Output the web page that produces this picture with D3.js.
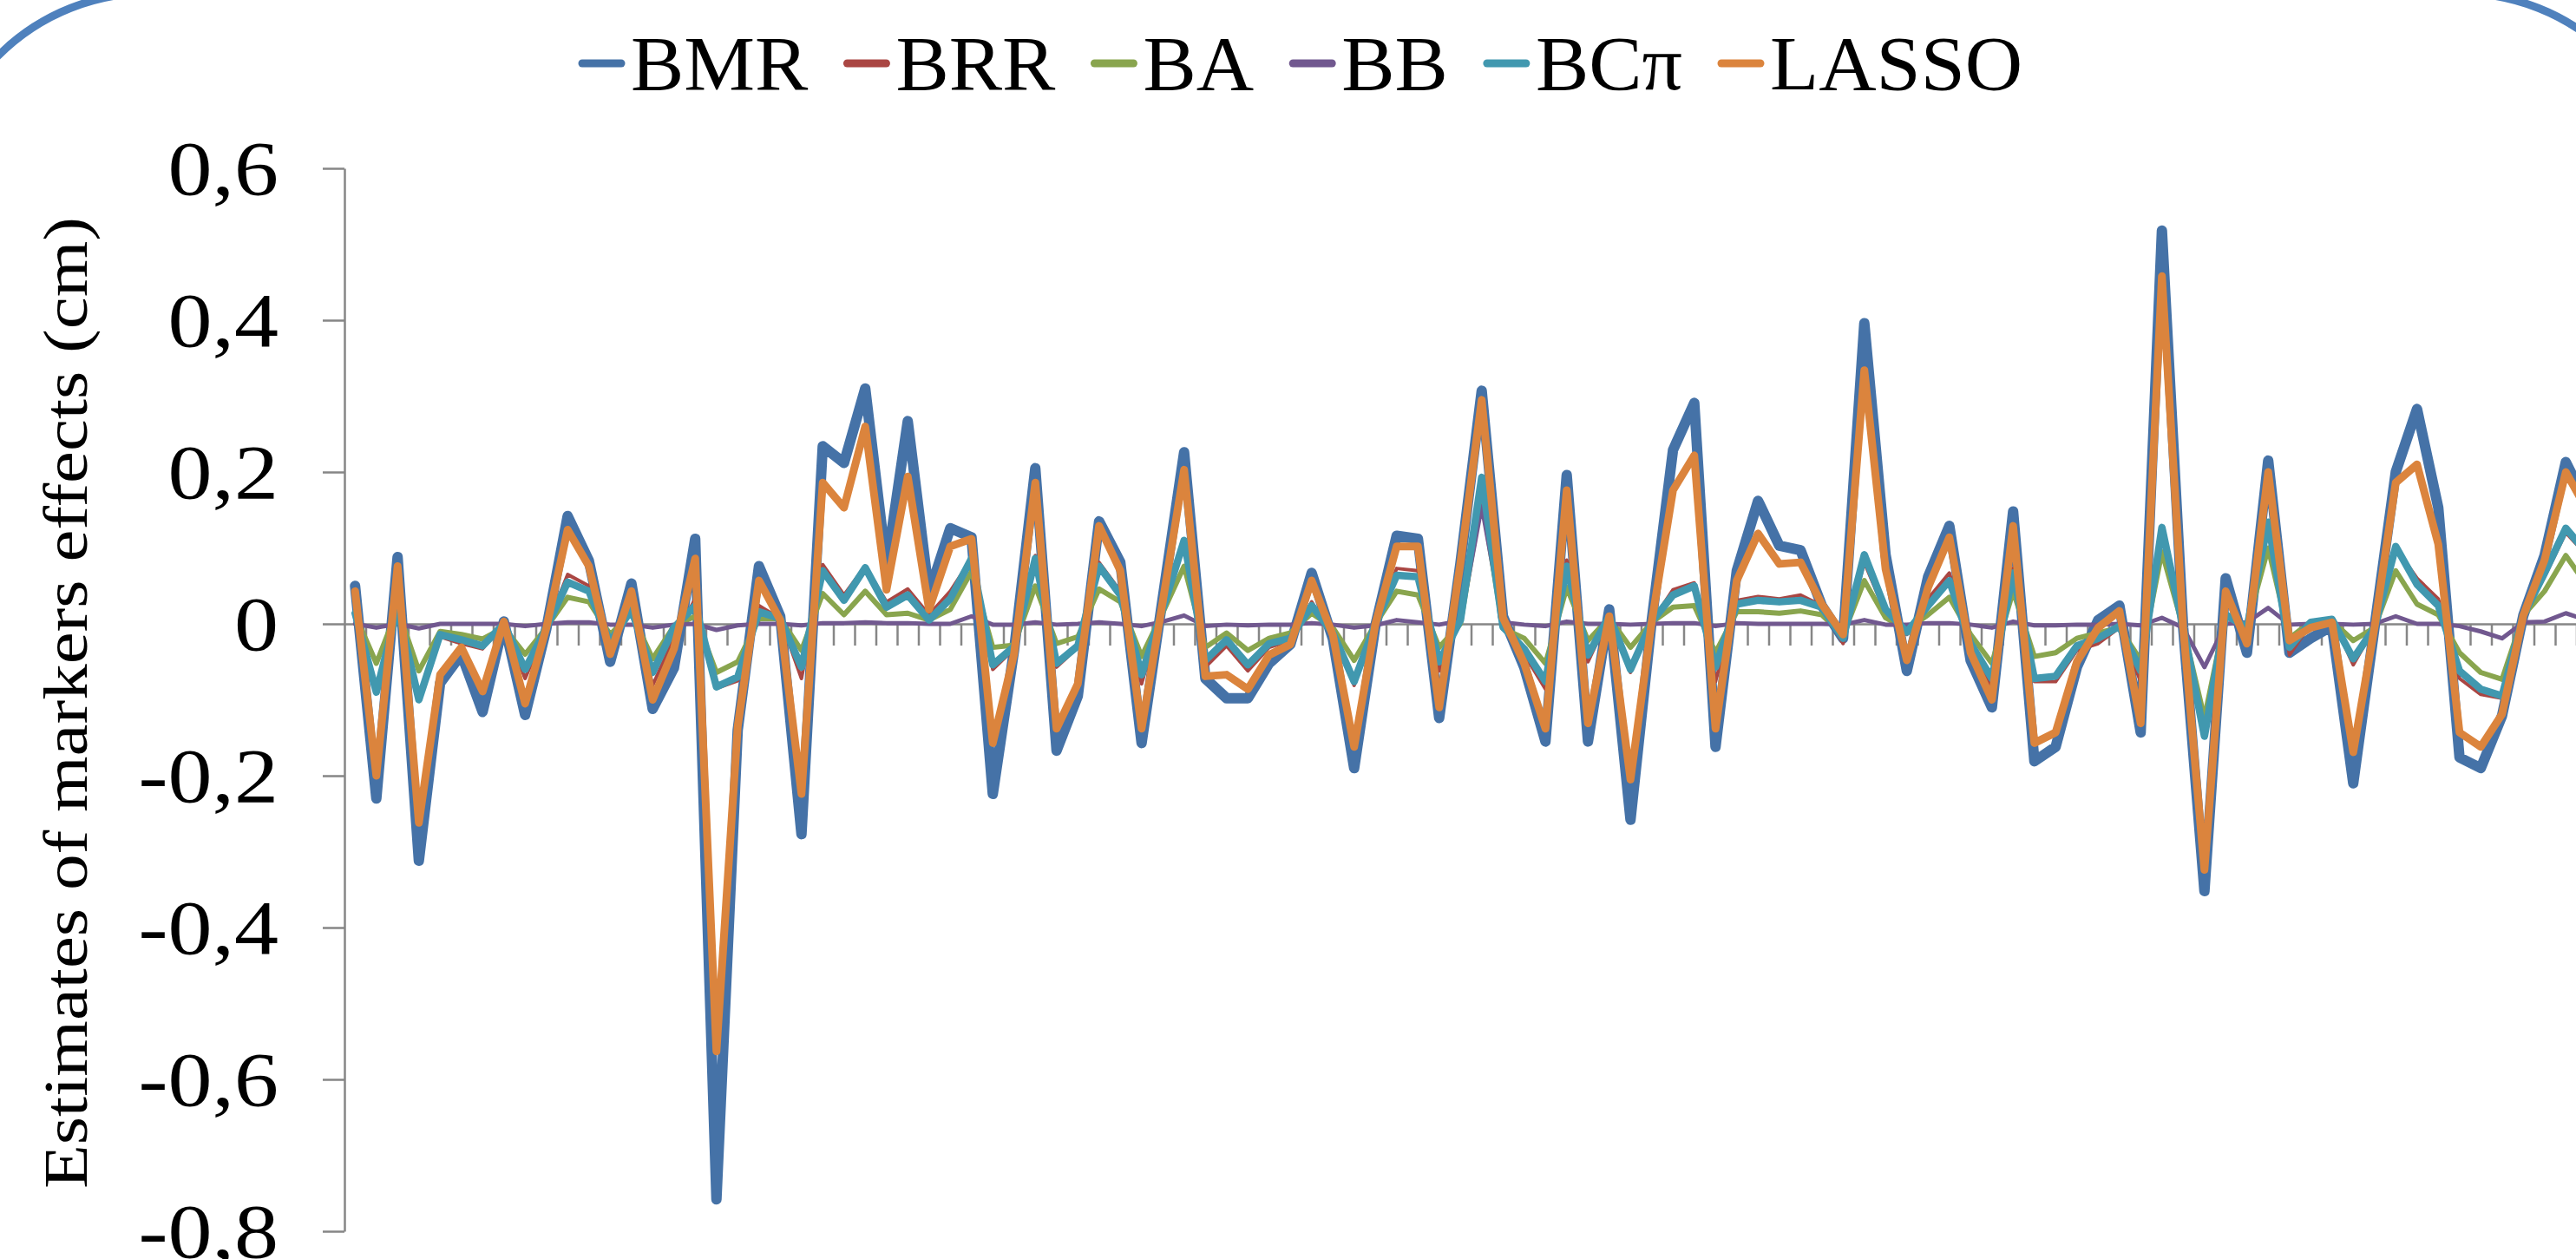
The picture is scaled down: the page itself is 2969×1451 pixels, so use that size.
<!DOCTYPE html>
<html>
<head>
<meta charset="utf-8">
<script src="https://cdnjs.cloudflare.com/ajax/libs/d3/7.8.5/d3.min.js"></script>
<style>
    html, body { margin: 0; padding: 0; background: #fff; overflow: hidden; }
    text { font-family: "Liberation Serif", "Times New Roman", serif; fill: #000; }
</style>
</head>
<body>
<div id="chart"></div>
<script>
var seriesNames = ["BMR", "BRR", "BA", "BB", "BC\u03c0", "LASSO"];
var seriesColors = ["#4572a7", "#aa4643", "#89a54e", "#71588f", "#4198af", "#db843d"];

var bmr = [0.05, -0.23, 0.088, -0.312, -0.078, -0.04, -0.116, 0.003, -0.12, -0.006,
    0.142, 0.083, -0.05, 0.053, -0.112, -0.058, 0.112, -0.758, -0.14, 0.076,
    0.01, -0.277, 0.234, 0.212, 0.31, 0.075, 0.267, 0.04, 0.126, 0.114,
    -0.224, -0.035, 0.205, -0.167, -0.095, 0.135, 0.081, -0.157, 0.035, 0.226,
    -0.072, -0.098, -0.098, -0.052, -0.027, 0.067, -0.02, -0.19, -0.002, 0.116,
    0.112, -0.124, 0.08, 0.307, 0.01, -0.057, -0.155, 0.196, -0.155, 0.019,
    -0.258, 0.005, 0.229, 0.291, -0.162, 0.07, 0.162, 0.103, 0.097, 0.024,
    -0.019, 0.396, 0.091, -0.062, 0.062, 0.129, -0.048, -0.11, 0.148, -0.181,
    -0.162, -0.057, 0.005, 0.024, -0.143, 0.518, -0.005, -0.352, 0.06, -0.038,
    0.215, -0.038, -0.019, -0.003, -0.21, -0.005, 0.2, 0.283, 0.153, -0.176,
    -0.19, -0.121, 0.011, 0.09, 0.213, 0.157];

var brr = [0.022, -0.085, 0.02, -0.1, -0.017, -0.026, -0.033, 0.002, -0.072, -0.005,
    0.065, 0.05, -0.026, 0.019, -0.081, -0.019, 0.033, -0.085, -0.075, 0.024,
    0.007, -0.072, 0.078, 0.038, 0.076, 0.029, 0.046, 0.012, 0.043, 0.086,
    -0.06, -0.033, 0.09, -0.057, -0.031, 0.081, 0.043, -0.079, 0.02, 0.105,
    -0.057, -0.029, -0.062, -0.031, -0.022, 0.029, -0.015, -0.081, 0, 0.073,
    0.07, -0.062, 0.005, 0.18, -0.004, -0.04, -0.086, 0.084, -0.05, 0.01,
    -0.064, 0.003, 0.045, 0.054, -0.076, 0.031, 0.036, 0.033, 0.038, 0.024,
    -0.026, 0.081, 0.014, -0.014, 0.033, 0.067, -0.026, -0.086, 0.073, -0.076,
    -0.076, -0.035, -0.026, -0.005, -0.076, 0.125, -0.005, -0.148, 0.012, -0.01,
    0.13, -0.041, 0, 0.008, -0.054, -0.005, 0.1, 0.06, 0.033, -0.072,
    -0.093, -0.098, 0.011, 0.062, 0.12, 0.09];

var ba = [0.012, -0.052, 0.02, -0.062, -0.01, -0.014, -0.02, -0.005, -0.04, -0.005,
    0.035, 0.029, -0.014, 0.014, -0.046, -0.003, 0.01, -0.064, -0.05, 0.007,
    0.007, -0.035, 0.04, 0.012, 0.043, 0.012, 0.014, 0.005, 0.019, 0.069,
    -0.031, -0.028, 0.05, -0.026, -0.017, 0.046, 0.029, -0.043, 0.015, 0.076,
    -0.031, -0.012, -0.035, -0.019, -0.012, 0.014, -0.005, -0.048, 0, 0.043,
    0.038, -0.031, 0, 0.168, -0.006, -0.019, -0.052, 0.048, -0.022, 0.008,
    -0.031, 0.002, 0.022, 0.024, -0.038, 0.016, 0.016, 0.014, 0.017, 0.012,
    -0.015, 0.057, 0.008, -0.008, 0.012, 0.035, -0.014, -0.052, 0.043, -0.043,
    -0.038, -0.019, -0.012, -0.005, -0.048, 0.095, -0.005, -0.124, 0.012, -0.003,
    0.1, -0.019, 0.003, 0.004, -0.022, -0.005, 0.07, 0.026, 0.012, -0.038,
    -0.064, -0.073, 0.011, 0.043, 0.09, 0.05];

var bb = [0, -0.005, 0, -0.006, 0, 0, 0, 0, -0.003, 0,
    0.002, 0.002, -0.001, -0.001, -0.005, -0.001, 0, -0.008, -0.002, 0,
    0, -0.002, 0.001, 0.001, 0.002, 0.001, 0.001, 0, 0, 0.01,
    -0.001, -0.001, 0.002, -0.001, 0, 0.002, 0, -0.003, 0.003, 0.011,
    -0.003, -0.001, -0.002, -0.001, -0.001, 0.001, -0.001, -0.005, -0.002, 0.005,
    0.002, -0.001, 0.004, 0.155, 0.002, -0.001, -0.003, 0.003, 0, 0,
    -0.001, 0, 0.001, 0.001, -0.003, 0.001, 0, 0, 0, 0,
    -0.001, 0.005, -0.001, -0.001, 0.001, 0.001, -0.001, -0.005, 0.003, -0.002,
    -0.002, -0.001, -0.001, 0, -0.002, 0.008, -0.005, -0.057, 0, 0.002,
    0.021, -0.001, 0, 0, -0.001, 0, 0.01, 0, 0, -0.003,
    -0.01, -0.019, 0.002, 0.003, 0.014, 0.005];

var bcpi = [0.014, -0.09, 0.02, -0.1, -0.014, -0.021, -0.029, 0, -0.06, -0.005,
    0.055, 0.043, -0.024, 0.019, -0.064, -0.005, 0.024, -0.083, -0.07, 0.016,
    0.007, -0.057, 0.07, 0.031, 0.074, 0.022, 0.038, 0.005, 0.033, 0.086,
    -0.054, -0.03, 0.086, -0.052, -0.029, 0.076, 0.038, -0.067, 0.02, 0.11,
    -0.048, -0.021, -0.054, -0.026, -0.019, 0.024, -0.012, -0.076, 0, 0.064,
    0.062, -0.05, 0.005, 0.193, -0.004, -0.033, -0.076, 0.076, -0.041, 0.01,
    -0.06, 0.003, 0.038, 0.05, -0.057, 0.026, 0.031, 0.029, 0.031, 0.022,
    -0.019, 0.091, 0.019, -0.011, 0.024, 0.057, -0.026, -0.072, 0.067, -0.072,
    -0.069, -0.029, -0.019, -0.003, -0.062, 0.127, -0.005, -0.148, 0.012, -0.005,
    0.134, -0.031, 0.002, 0.006, -0.046, -0.005, 0.102, 0.052, 0.024, -0.062,
    -0.086, -0.095, 0.011, 0.067, 0.126, 0.093];

var lasso = [0.043, -0.2, 0.076, -0.262, -0.067, -0.031, -0.089, 0.003, -0.105, -0.005,
    0.124, 0.076, -0.04, 0.043, -0.1, -0.033, 0.086, -0.563, -0.135, 0.057,
    0.005, -0.224, 0.186, 0.153, 0.26, 0.045, 0.194, 0.019, 0.102, 0.112,
    -0.157, -0.04, 0.186, -0.138, -0.079, 0.129, 0.07, -0.138, 0.03, 0.203,
    -0.069, -0.067, -0.086, -0.041, -0.027, 0.057, -0.015, -0.162, 0, 0.102,
    0.102, -0.11, 0.08, 0.295, 0.008, -0.052, -0.138, 0.176, -0.131, 0.01,
    -0.205, 0.003, 0.176, 0.222, -0.138, 0.057, 0.119, 0.079, 0.081, 0.026,
    -0.014, 0.334, 0.072, -0.048, 0.048, 0.114, -0.038, -0.1, 0.129, -0.157,
    -0.143, -0.05, -0.005, 0.017, -0.131, 0.458, -0.005, -0.324, 0.043, -0.026,
    0.2, -0.022, -0.005, 0.002, -0.169, -0.005, 0.186, 0.21, 0.105, -0.143,
    -0.162, -0.119, 0.011, 0.084, 0.2, 0.15];

var yTicks = [0.6, 0.4, 0.2, 0, -0.2, -0.4, -0.6, -0.8];
var yTickLabels = ["0,6", "0,4", "0,2", "0", "-0,2", "-0,4", "-0,6", "-0,8"];
var yTitle = "Estimates of markers effects (cm)";

(function() {
    var width = 2969,
        height = 1451;

    var svg = d3.select("#chart")
        .append("svg")
        .attr("width", width)
        .attr("height", height);

    // chart area border, most of it lies outside the picture
    svg.append("rect")
        .attr("x", -74)
        .attr("y", -8)
        .attr("width", 3155)
        .attr("height", 1700)
        .attr("rx", 246)
        .attr("ry", 246)
        .attr("fill", "none")
        .attr("stroke", "#4f81bd")
        .attr("stroke-width", 9);

    var left = 397, top = 194, bottom = 1419, step = 24.5;
    var series = [bmr, brr, ba, bb, bcpi, lasso];
    var widths = [12, 4, 6, 5, 8.5, 9];
    var categories = d3.range(1, bmr.length + 1);

    var x = d3.scaleBand()
        .domain(categories)
        .range([left, left + step * categories.length]);

    var xEdge = d3.scaleLinear()
        .domain([0, categories.length])
        .range(x.range());

    var y = d3.scaleLinear()
        .domain([-0.8, 0.6])
        .range([bottom, top]);

    var axisColor = "#868686";

    var yAxis = svg.append("g")
        .attr("transform", "translate(" + left + ",0)")
        .call(d3.axisLeft(y).tickValues(yTicks).tickSize(25).tickSizeOuter(0).tickFormat(""));

    var xAxis = svg.append("g")
        .attr("transform", "translate(0," + y(0) + ")")
        .call(d3.axisBottom(xEdge).tickValues(d3.range(1, categories.length + 1))
            .tickSize(25).tickSizeOuter(0).tickFormat(""));

    [yAxis, xAxis].forEach(function(g) {
        g.select(".domain").attr("stroke", axisColor).attr("stroke-width", 2.5);
        g.selectAll(".tick line").attr("stroke", axisColor).attr("stroke-width", 2.5);
    });

    svg.selectAll(".ylabel")
        .data(yTicks)
        .enter().append("text")
        .attr("class", "ylabel")
        .attr("transform", function(d) {
            return "translate(321," + y(d) + ") scale(1.16,1)";
        })
        .attr("text-anchor", "end")
        .attr("dy", "0.34em")
        .attr("font-size", 88)
        .text(function(d, i) { return yTickLabels[i]; });

    svg.append("text")
        .attr("transform", "translate(100,810) rotate(-90)")
        .attr("text-anchor", "middle")
        .attr("font-size", 72.5)
        .attr("textLength", 1120)
        .attr("lengthAdjust", "spacingAndGlyphs")
        .text(yTitle);

    var line = d3.line()
        .x(function(d, i) { return x(categories[i]) + x.bandwidth() / 2; })
        .y(function(d) { return y(d); });

    svg.selectAll(".series")
        .data(series)
        .enter().append("path")
        .attr("class", "series")
        .attr("fill", "none")
        .attr("stroke", function(d, i) { return seriesColors[i]; })
        .attr("stroke-width", function(d, i) { return widths[i]; })
        .attr("stroke-linejoin", "round")
        .attr("stroke-linecap", "round")
        .attr("d", line);

    // legend, text a little wider than plain Liberation Serif
    var legend = svg.append("g");
    var lx = 667, stretch = 1.045;
    seriesNames.forEach(function(name, i) {
        legend.append("line")
            .attr("x1", lx + 4).attr("x2", lx + 49)
            .attr("y1", 73).attr("y2", 73)
            .attr("stroke", seriesColors[i])
            .attr("stroke-width", 9)
            .attr("stroke-linecap", "round");
        var t = legend.append("text")
            .attr("transform", "translate(" + (lx + 60) + ",103) scale(" + stretch + ",1)")
            .attr("font-size", 88)
            .text(name);
        lx += 60 + t.node().getComputedTextLength() * stretch + 41;
    });
})();
</script>
</body>
</html>
